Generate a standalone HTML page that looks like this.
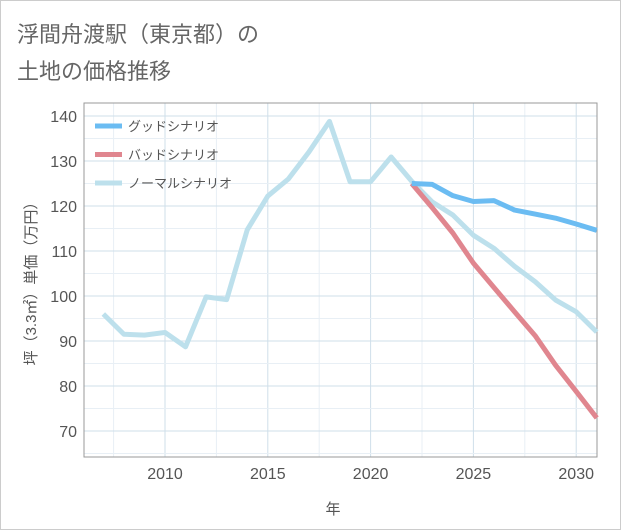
<!DOCTYPE html>
<html><head><meta charset="utf-8"><style>
body{margin:0;background:#fff;}
#wrap{position:relative;width:619px;height:528px;border:1px solid #ccc;background:#fff;font-family:"Liberation Sans","Noto Sans CJK JP",sans-serif;}
.title{position:absolute;left:16px;font-size:22px;color:#666;}
</style></head><body>
<div id="wrap">
<div class="title" style="top:16px">浮間舟渡駅（東京都）の</div>
<div class="title" style="top:53px">土地の価格推移</div>
<svg id="chart" width="621" height="530" style="position:absolute;left:-1px;top:-1px"></svg>
</div>
<script>
const years=[2007,2008,2009,2010,2011,2012,2013,2014,2015,2016,2017,2018,2019,2020,2021,2022,2023,2024,2025,2026,2027,2028,2029,2030,2031];
const normalValues=[96,91.5,91.3,91.9,88.7,99.8,99.2,114.7,122.2,126,132,138.8,125.4,125.4,130.9,125.5,120.9,118,113.5,110.6,106.6,103.2,99.1,96.5,92];
const forecastYears=[2022,2023,2024,2025,2026,2027,2028,2029,2030,2031];
const goodValues=[125,124.8,122.3,121,121.2,119.1,118.2,117.3,116,114.6];
const badValues=[125,119.6,114,107.3,101.9,96.5,91.2,84.6,78.8,72.9];
const xTicks=[2010,2015,2020,2025,2030];
const yTicks=[70,80,90,100,110,120,130,140];
const legendLabels=["グッドシナリオ","バッドシナリオ","ノーマルシナリオ"];
const L=84,R=597,T=103,B=457;
const x=v=>165+(v-2010)*20.56;
const y=v=>116+(140-v)*4.5;
const svg=document.getElementById('chart');
const NS='http://www.w3.org/2000/svg';
function mk(tag,attrs,parent){const e=document.createElementNS(NS,tag);for(const k in attrs)e.setAttribute(k,attrs[k]);(parent||svg).appendChild(e);return e;}
for(let yr=2007.5;yr<2031;yr+=2.5){const g=mk('line',{x1:x(yr),x2:x(yr),y1:T,y2:B,stroke:yr%5===0?'#cfdfea':'#e8eff5','stroke-width':1});

}
for(let v=65;v<=145;v+=5){const yy=y(v);if(yy<T||yy>B)continue;const g=mk('line',{x1:L,x2:R,y1:yy,y2:yy,stroke:v%10===0?'#cfdfea':'#e8eff5','stroke-width':1});

}
const frame=mk('rect',{x:L,y:T,width:R-L,height:B-T,fill:'none',stroke:'#999','stroke-width':1});


xTicks.forEach(t=>{const e=mk('text',{x:x(t),y:479,'text-anchor':'middle','font-size':16,fill:'#555','font-family':'Liberation Sans'});e.textContent=t;

});
yTicks.forEach(t=>{const e=mk('text',{x:77,y:y(t)+6,'text-anchor':'end','font-size':16,fill:'#555','font-family':'Liberation Sans'});e.textContent=t;

});
const xt=mk('text',{x:333,y:514,'text-anchor':'middle','font-size':15,fill:'#555'});xt.textContent='年';


const yt=mk('text',{x:0,y:0,'text-anchor':'middle','font-size':15,fill:'#555',transform:'translate(36,280) rotate(-90)'});yt.textContent='坪（3.3㎡）単価（万円）';


function line(xs,vs,color,name){const p=mk('polyline',{points:xs.map((yr,i)=>x(yr)+','+y(vs[i])).join(' '),fill:'none',stroke:color,'stroke-width':5,'stroke-linejoin':'round'});

}
line(years,normalValues,'#bde0ec','normal-scenario-line');
line(forecastYears,badValues,'#e0868f','bad-scenario-line');
line(forecastYears,goodValues,'#6bbcf2','good-scenario-line');
const colors=['#6bbcf2','#e0868f','#bde0ec'];
legendLabels.forEach((lab,i)=>{const yy=126+i*28.5;
const s=mk('line',{x1:95,x2:122,y1:yy,y2:yy,stroke:colors[i],'stroke-width':5});


const t=mk('text',{x:128,y:yy+5,'font-size':13,fill:'#555'});t.textContent=lab;

});
</script>
</body></html>
